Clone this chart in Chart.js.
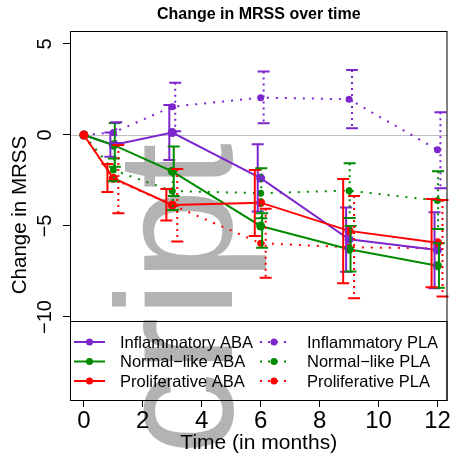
<!DOCTYPE html>
<html>
<head>
<meta charset="utf-8">
<script src="https://cdn.jsdelivr.net/npm/chart.js@4.4.0/dist/chart.umd.min.js"></script>
<style>
  html, body { margin: 0; padding: 0; background: #fff; }
</style>
</head>
<body>
<canvas id="c" width="452" height="461"></canvas>
<script>
// values
const months = [0, 1, 3, 6, 9, 12];
const xTicks = [0, 2, 4, 6, 8, 10, 12];
const yTicks = [-10, -5, 0, 5];
const yTickLabels = ['\u221210', '\u22125', '0', '5'];

const inflABA   = [0, -0.55, 0.13, -2.37, -5.73, -6.32];
const inflABALo = [null, -1.2, -1.37, -4.2, -7.51, -8.42];
const inflABAHi = [null, 0.13, 1.65, -0.51, -3.99, -4.25];

const normABA   = [0, -0.55, -2.0, -5.0, -6.28, -7.18];
const normABALo = [null, -1.75, -3.35, -6.2, -7.5, -8.39];
const normABAHi = [null, 0.65, -0.64, -4.3, -5.0, -5.95];

const prolABA   = [0, -2.38, -3.85, -3.72, -5.27, -5.92];
const prolABALo = [null, -3.13, -4.7, -5.55, -8.15, -8.37];
const prolABAHi = [null, -1.6, -2.97, -1.92, -2.42, -3.52];

const inflPLA   = [0, 0.13, 1.55, 2.05, 1.96, -0.82];
const inflPLALo = [null, -0.44, 0.2, 0.64, 0.37, -2.93];
const inflPLAHi = [null, 0.7, 2.87, 3.48, 3.57, 1.25];

const normPLA   = [0, -1.93, -3.08, -3.2, -3.06, -3.6];
const normPLALo = [null, -2.55, -4.12, -4.57, -4.56, -5.16];
const normPLAHi = [null, -1.3, -1.87, -1.83, -1.56, -2.0];

const prolPLA   = [0, -2.42, -3.85, -5.95, -6.17, -6.23];
const prolPLALo = [null, -4.3, -5.86, -7.84, -8.97, -8.88];
const prolPLAHi = [null, -0.55, -1.87, -4.05, -3.35, -3.58];

const PURPLE = '#7D26CD';
const GREEN = '#008B00';
const RED = '#FF0000';
const FONT = '"Liberation Sans", Arial, Helvetica, sans-serif';

function pts(arr) {
    return months.map((m, i) => ({ x: m, y: arr[i] }));
}

function series(label, color, values, lo, hi, pla, dodge, order) {
    return {
        label: label,
        data: pts(values),
        errLo: lo,
        errHi: hi,
        dodge: dodge,
        pla: pla,
        order: order,
        borderColor: color,
        backgroundColor: color,
        pointBackgroundColor: color,
        pointBorderWidth: 0,
        pointRadius: pla ? 3.5 : 4.5,
        pointHoverRadius: pla ? 3.5 : 4.5,
        borderWidth: 2,
        borderDash: pla ? [2, 7] : [],
        tension: 0,
        fill: false
    };
}

// gray "Script" stamp behind everything
const watermark = {
    id: 'watermark',
    beforeDraw(chart) {
        const ctx = chart.ctx;
        ctx.save();
        ctx.translate(232, 565);
        ctx.rotate(-Math.PI / 2);
        ctx.font = '165px ' + FONT;
        ctx.fillStyle = '#b3b3b3';
        ctx.textBaseline = 'alphabetic';
        ctx.fillText('Script', 0, 0);
        ctx.restore();
    }
};

const zeroLine = {
    id: 'zeroLine',
    beforeDatasetsDraw(chart) {
        const ctx = chart.ctx, a = chart.chartArea;
        const y = Math.round(chart.scales.y.getPixelForValue(0)) + 0.5;
        ctx.save();
        ctx.strokeStyle = '#bebebe';
        ctx.lineWidth = 1;
        ctx.beginPath();
        ctx.moveTo(a.left, y);
        ctx.lineTo(a.right, y);
        ctx.stroke();
        ctx.restore();
    }
};

const errorBars = {
    id: 'errorBars',
    afterDatasetsDraw(chart) {
        const ctx = chart.ctx;
        const xs = chart.scales.x, ys = chart.scales.y;
        ctx.save();
        chart.data.datasets.forEach(ds => {
            ctx.strokeStyle = ds.borderColor;
            ctx.lineWidth = 2;
            months.forEach((m, i) => {
                if (ds.errLo[i] === null) return;
                const x = xs.getPixelForValue(m + ds.dodge);
                const y1 = ys.getPixelForValue(ds.errHi[i]);
                const y2 = ys.getPixelForValue(ds.errLo[i]);
                ctx.setLineDash(ds.pla ? [2, 4] : []);
                ctx.beginPath();
                ctx.moveTo(x, y1);
                ctx.lineTo(x, y2);
                ctx.stroke();
                ctx.setLineDash([]);
                ctx.beginPath();
                ctx.moveTo(x - 6, y1); ctx.lineTo(x + 6, y1);
                ctx.moveTo(x - 6, y2); ctx.lineTo(x + 6, y2);
                ctx.stroke();
            });
        });
        ctx.restore();
    }
};

const frame = {
    id: 'frame',
    afterDraw(chart) {
        const ctx = chart.ctx, a = chart.chartArea;
        const ys = chart.scales.y;
        ctx.save();
        ctx.strokeStyle = '#000';
        ctx.lineWidth = 1;
        ctx.strokeRect(a.left + 0.5, a.top + 0.5, a.right - a.left - 1, a.bottom - a.top);

        // rotated y tick labels, R style
        ctx.fillStyle = '#000';
        ctx.font = '20px ' + FONT;
        ctx.textAlign = 'center';
        ctx.textBaseline = 'alphabetic';
        yTicks.forEach((v, i) => {
            ctx.save();
            ctx.translate(51, ys.getPixelForValue(v));
            ctx.rotate(-Math.PI / 2);
            ctx.fillText(yTickLabels[i], 0, 0);
            ctx.restore();
        });

        // y axis title
        ctx.save();
        ctx.font = '20.5px ' + FONT;
        ctx.textBaseline = 'middle';
        ctx.translate(20, 215);
        ctx.rotate(-Math.PI / 2);
        ctx.fillText('Change in MRSS', 0, 0);
        ctx.restore();

        // main title
        ctx.font = 'bold 16px ' + FONT;
        ctx.textBaseline = 'middle';
        ctx.fillText('Change in MRSS over time', (a.left + a.right) / 2, 15);

        // legend box
        const top = a.bottom - 79;
        ctx.strokeRect(a.left + 0.5, top + 0.5, a.right - a.left - 1, a.bottom - top);
        const sets = chart.data.datasets;
        const aba = sets.filter(d => !d.pla), pla = sets.filter(d => d.pla);
        const cols = [
            { list: aba, x0: 74, x1: 105, tx: 120 },
            { list: pla, x0: 260, x1: 288, tx: 307 }
        ];
        ctx.font = '16.5px ' + FONT;
        ctx.textAlign = 'left';
        cols.forEach(c => {
            c.list.forEach((d, r) => {
                const y = top + 21 + r * 19.5;
                ctx.strokeStyle = d.borderColor;
                ctx.lineWidth = 2;
                ctx.setLineDash(d.pla ? [2, 6] : []);
                ctx.beginPath();
                ctx.moveTo(c.x0, y);
                ctx.lineTo(c.x1, y);
                ctx.stroke();
                ctx.setLineDash([]);
                ctx.fillStyle = d.borderColor;
                ctx.beginPath();
                ctx.arc((c.x0 + c.x1) / 2, y, 3.5, 0, Math.PI * 2);
                ctx.fill();
                ctx.fillStyle = '#000';
                ctx.fillText(d.label, c.tx, y + 1);
            });
        });
        ctx.restore();
    }
};

new Chart(document.getElementById('c'), {
    type: 'line',
    data: {
        datasets: [
            series('Inflammatory ABA', PURPLE, inflABA, inflABALo, inflABAHi, false, -0.1, 3),
            series('Normal\u2212like ABA', GREEN, normABA, normABALo, normABAHi, false, 0.05, 2),
            series('Proliferative ABA', RED, prolABA, prolABALo, prolABAHi, false, -0.2, 1),
            series('Inflammatory PLA', PURPLE, inflPLA, inflPLALo, inflPLAHi, true, 0.1, 6),
            series('Normal\u2212like PLA', GREEN, normPLA, normPLALo, normPLAHi, true, 0.02, 5),
            series('Proliferative PLA', RED, prolPLA, prolPLALo, prolPLAHi, true, 0.17, 4)
        ]
    },
    options: {
        responsive: false,
        animation: false,
        devicePixelRatio: 1,
        layout: { padding: { top: 31, right: 2, left: 0, bottom: 0 } },
        plugins: {
            legend: { display: false },
            title: { display: false },
            tooltip: { enabled: false }
        },
        scales: {
            x: {
                type: 'linear',
                position: 'bottom',
                min: -0.47,
                max: 12.34,
                afterBuildTicks: s => { s.ticks = xTicks.map(v => ({ value: v })); },
                afterFit: s => { s.height = 61; },
                grid: { drawOnChartArea: false, drawTicks: true, tickLength: 7, color: '#000', lineWidth: 1 },
                border: { display: false },
                ticks: { color: '#000', font: { family: FONT, size: 24 }, padding: 0, maxRotation: 0, autoSkip: false },
                title: { display: true, text: 'Time (in months)', color: '#000', font: { family: FONT, size: 21 }, padding: { top: 0, bottom: 5 } }
            },
            y: {
                type: 'linear',
                min: -14.56,
                max: 5.71,
                afterBuildTicks: s => { s.ticks = yTicks.map(v => ({ value: v })); },
                afterFit: s => { s.width = 70; },
                grid: { drawOnChartArea: false, drawTicks: true, tickLength: 7, color: '#000', lineWidth: 1 },
                border: { display: false },
                ticks: { display: false }
            }
        }
    },
    plugins: [watermark, zeroLine, errorBars, frame]
});
</script>
</body>
</html>
